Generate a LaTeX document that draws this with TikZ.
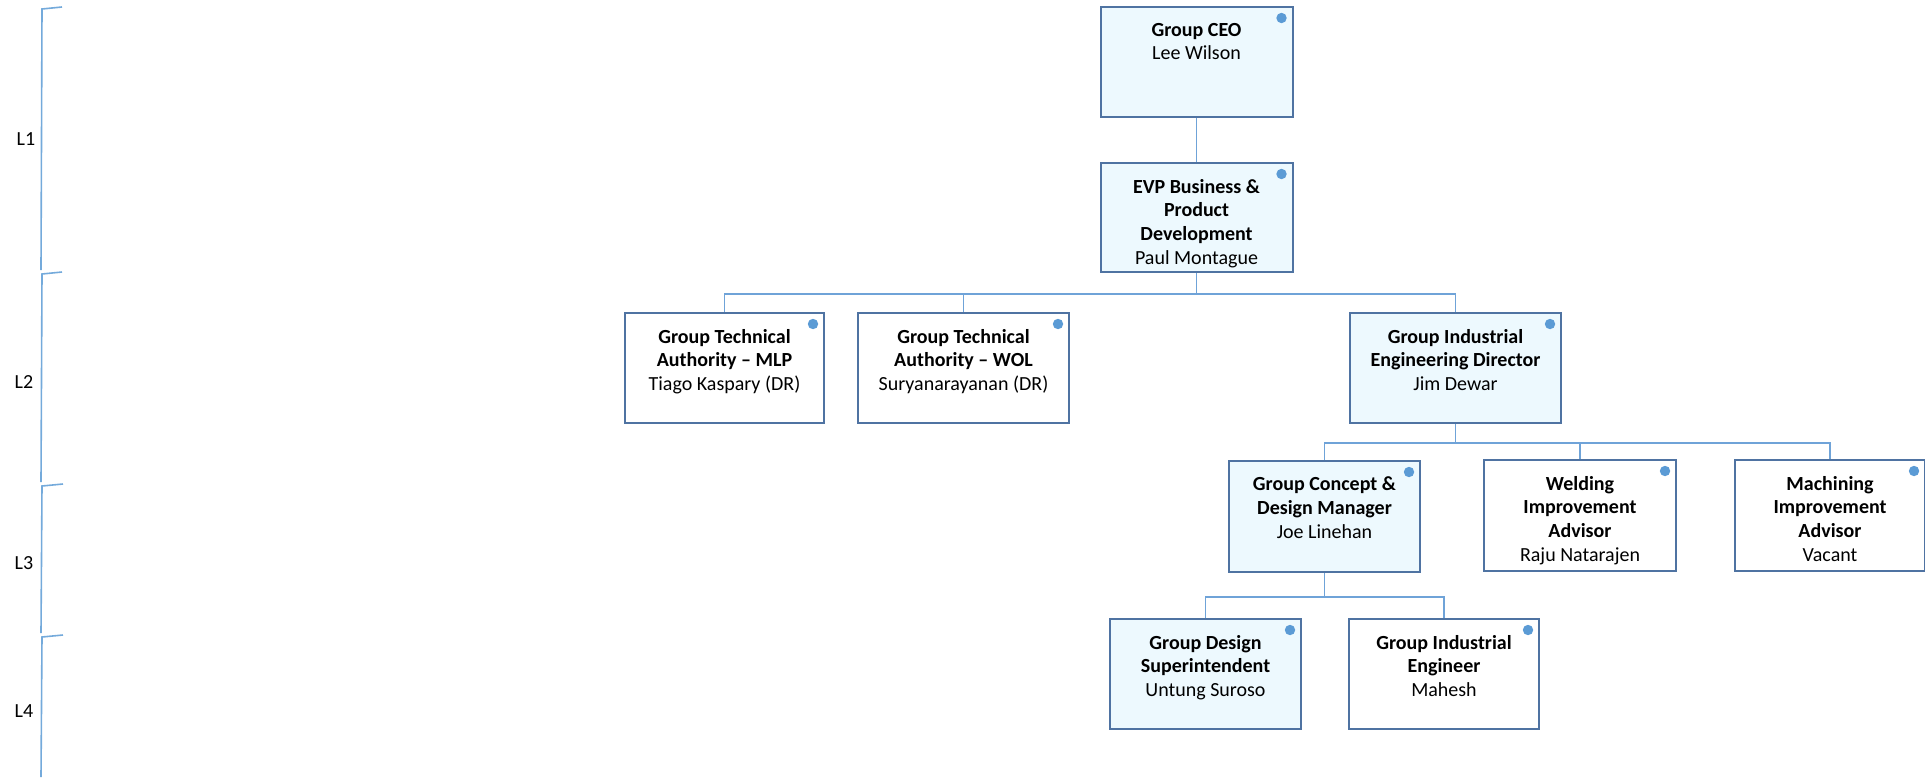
\documentclass[tikz,border=0pt]{standalone}
\usepackage{fontspec}
\setmainfont{Carlito}
\usepackage{tikz}
\definecolor{boxline}{RGB}{79,115,162}
\definecolor{boxfill}{RGB}{237,249,254}
\definecolor{linkblue}{RGB}{111,163,216}
\definecolor{dotblue}{RGB}{91,155,213}
\newcommand\orgfont{\fontsize{10}{11.9}\selectfont}

\begin{document}
\begin{tikzpicture}[x=0.5pt, y=-0.5pt,
            orgbox/.style={draw=boxline, line width=1pt, minimum height=55pt, inner sep=0pt,
                path picture={\fill[dotblue] ([shift={(-11,11)}]path picture bounding box.north east) circle (2.6pt);}},
            filled/.style={orgbox, fill=boxfill},
            nofill/.style={orgbox, fill=white},
            role/.style={font=\orgfont, align=center, anchor=north, inner sep=0pt, yshift=-8.3pt},
            link/.style={draw=linkblue, line width=0.75pt},
            bracket/.style={draw=dotblue!85, line width=0.8pt},
            level/.style={font=\orgfont}
        ]
        \useasboundingbox (0,0) rectangle (1925,777);
        % level brackets on the left
        \draw[bracket] (62,7) -- (42,9) -- (41,270);
        \draw[bracket] (62,272) -- (42,274) -- (41,482);
        \draw[bracket] (63,484) -- (42,486) -- (41,633);
        \draw[bracket] (63,635) -- (42,637) -- (41,777);
        \node[level] (l1) at (26,139) {L1};
        \node[level] (l2) at (24,382) {L2};
        \node[level] (l3) at (24,563) {L3};
        \node[level] (l4) at (24,711) {L4};
        % boxes
        \node[filled, minimum width=96pt, label={[role]north:{\textbf{Group CEO}\\Lee Wilson}}] (ceo) at (1196.5,62) {};
        \node[filled, minimum width=96pt, minimum height=54.5pt, label={[role]north:{\textbf{EVP Business \&}\\\textbf{Product}\\\textbf{Development}\\Paul Montague}}] (evp) at (1196.5,217.5) {};
        \node[nofill, minimum width=99.5pt, label={[role]north:{\textbf{Group Technical}\\\textbf{Authority -- MLP}\\Tiago Kaspary (DR)}}] (mlp) at (724.5,368) {};
        \node[nofill, minimum width=105.5pt, label={[role]north:{\textbf{Group Technical}\\\textbf{Authority -- WOL}\\Suryanarayanan (DR)}}] (wol) at (963.5,368) {};
        \node[filled, minimum width=105.5pt, label={[role]north:{\textbf{Group Industrial}\\\textbf{Engineering Director}\\Jim Dewar}}] (gied) at (1455.5,368) {};
        \node[filled, minimum width=95.5pt, minimum height=55.5pt, label={[role]north:{\textbf{Group Concept \&}\\\textbf{Design Manager}\\Joe Linehan}}] (gcdm) at (1324.5,516.5) {};
        \node[nofill, minimum width=96pt, minimum height=55.5pt, label={[role]north:{\textbf{Welding}\\\textbf{Improvement}\\\textbf{Advisor}\\Raju Natarajen}}] (wia) at (1580,515.5) {};
        \node[nofill, minimum width=95pt, minimum height=55.5pt, label={[role]north:{\textbf{Machining}\\\textbf{Improvement}\\\textbf{Advisor}\\Vacant}}] (mia) at (1830,515.5) {};
        \node[filled, minimum width=95.5pt, label={[role]north:{\textbf{Group Design}\\\textbf{Superintendent}\\Untung Suroso}}] (gds) at (1205.5,674) {};
        \node[nofill, minimum width=95pt, label={[role]north:{\textbf{Group Industrial}\\\textbf{Engineer}\\Mahesh}}] (gie) at (1444,674) {};
        % reporting lines
        \draw[link] (ceo) -- (evp);
        \draw[link] (evp.south) -- ++(0,21) -| (mlp.north);
        \draw[link] (evp.south) -- ++(0,21) -| (wol.north);
        \draw[link] (evp.south) -- ++(0,21) -| (gied.north);
        \draw[link] (gied.south) -- ++(0,19) -| (gcdm.north);
        \draw[link] (gied.south) -- ++(0,19) -| (wia.north);
        \draw[link] (gied.south) -- ++(0,19) -| (mia.north);
        \draw[link] (gcdm.south) -- ++(0,24) -| (gds.north);
        \draw[link] (gcdm.south) -- ++(0,24) -| (gie.north);
\end{tikzpicture}
\end{document}
